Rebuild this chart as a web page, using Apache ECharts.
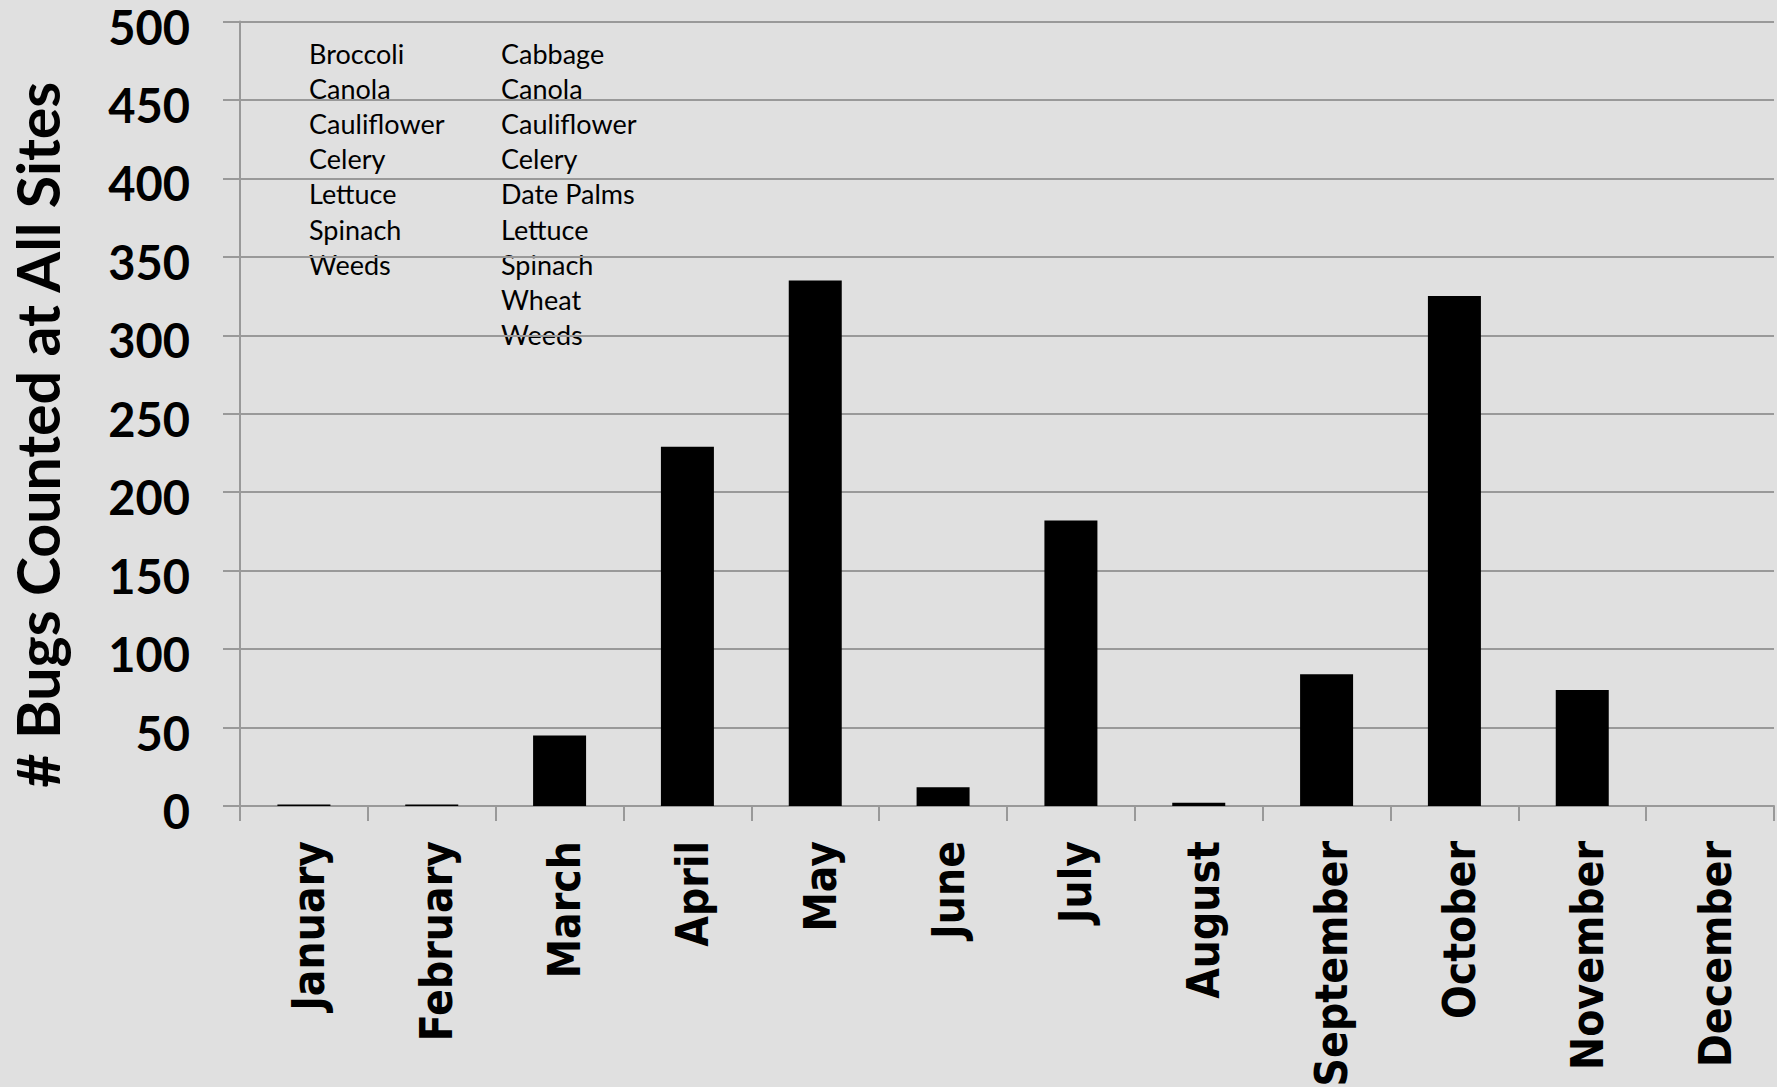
<!DOCTYPE html>
<html>
<head>
<meta charset="utf-8">
<script src="https://cdn.jsdelivr.net/npm/echarts@6/dist/echarts.min.js"></script>
<style>
  html, body { margin: 0; padding: 0; background: #e0e0e0; }
  #chart { width: 1777px; height: 1087px; }
</style>
</head>
<body>
<div id="chart"></div>
<script>
// Monthly bug counts summed over all sampling sites
const months = ['January', 'February', 'March', 'April', 'May', 'June',
  'July', 'August', 'September', 'October', 'November', 'December'];
const bugCounts = [1, 1, 45, 229, 335, 12, 182, 2, 84, 325, 74, 0];
const yTicks = [0, 50, 100, 150, 200, 250, 300, 350, 400, 450, 500];

// Host crops listed in the two text columns
const cropsFirst = ['Broccoli', 'Canola', 'Cauliflower', 'Celery', 'Lettuce', 'Spinach', 'Weeds'];
const cropsSecond = ['Cabbage', 'Canola', 'Cauliflower', 'Celery', 'Date Palms', 'Lettuce', 'Spinach', 'Wheat', 'Weeds'];

const chart = echarts.init(document.getElementById('chart'), null, { renderer: 'svg' });

const gridColor = '#999999';
const lineGap = 35.1;

function cropColumn(list, left) {
  return list.map((name, i) => ({
    type: 'text',
    left: left,
    top: 40 + i * lineGap,
    style: {
      text: name,
      fill: '#000',
      font: 'normal 27px Lato',
      textVerticalAlign: 'top'
    }
  }));
}

chart.setOption({
  backgroundColor: '#e0e0e0',
  animation: false,
  grid: { left: 240, right: 3, top: 21.5, bottom: 281, containLabel: false, outerBoundsMode: 'none' },
  xAxis: {
    type: 'category',
    data: months,
    axisLine: { lineStyle: { color: gridColor, width: 2 } },
    axisTick: { show: true, length: 15, lineStyle: { color: gridColor, width: 2 } },
    axisLabel: {
      rotate: 90,
      margin: 35,
      color: '#000',
      fontFamily: '"DejaVu Sans Condensed", "DejaVu Sans"',
      fontWeight: 'bold',
      fontSize: 44,
      verticalAlign: 'top',
      lineHeight: 10,
      interval: 0
    }
  },
  yAxis: {
    type: 'value',
    min: yTicks[0],
    max: yTicks[yTicks.length - 1],
    interval: yTicks[1] - yTicks[0],
    name: '# Bugs Counted at All Sites',
    nameLocation: 'middle',
    nameGap: 173,
    nameTextStyle: {
      color: '#000',
      fontFamily: 'Lato',
      fontWeight: 'bold',
      fontSize: 59,
      padding: [0, 0, 0, -42]
    },
    axisLine: { show: true, lineStyle: { color: gridColor, width: 2 } },
    axisTick: { show: true, length: 17, lineStyle: { color: gridColor, width: 2 } },
    axisLabel: {
      margin: 50,
      color: '#000',
      fontFamily: 'Lato',
      fontWeight: 'bold',
      fontSize: 47,
      verticalAlign: 'top',
      lineHeight: 10
    },
    splitLine: { show: true, lineStyle: { color: gridColor, width: 2 } }
  },
  series: [{
    type: 'bar',
    data: bugCounts,
    barWidth: 53,
    itemStyle: { color: '#000000' }
  }],
  graphic: cropColumn(cropsFirst, 309).concat(cropColumn(cropsSecond, 501))
});
</script>
</body>
</html>
